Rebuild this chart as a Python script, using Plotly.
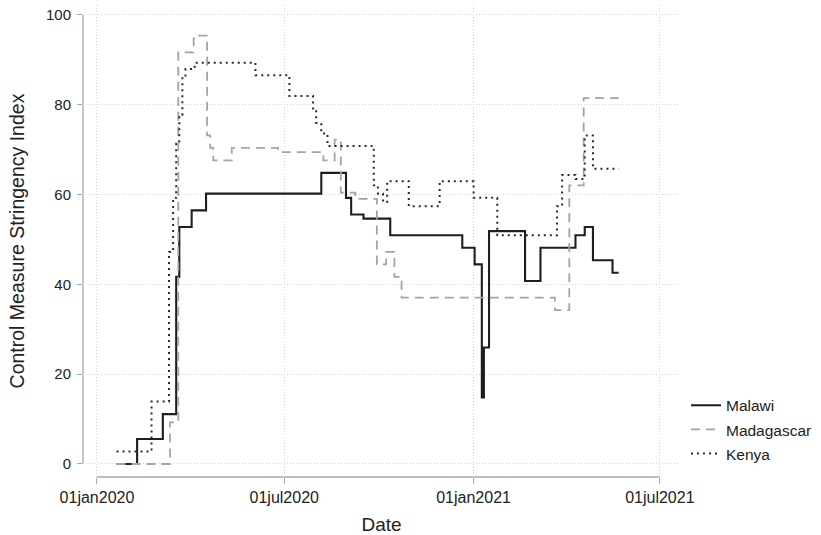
import plotly.graph_objects as go

# ---------------- data ----------------
malawi_dates = ["2020-01-20", "2020-02-09", "2020-03-05", "2020-03-18", "2020-03-21",
                "2020-04-02", "2020-04-16", "2020-08-06", "2020-08-30", "2020-09-04",
                "2020-09-16", "2020-10-12", "2020-12-21", "2021-01-02", "2021-01-09",
                "2021-01-11", "2021-01-16", "2021-02-20", "2021-03-07", "2021-04-10",
                "2021-04-19", "2021-04-27", "2021-05-16", "2021-05-22"]
malawi_values = [0.0, 5.56, 11.11, 41.67, 52.78,
                 56.48, 60.19, 64.81, 59.26, 55.56,
                 54.63, 50.93, 48.15, 44.44, 14.81,
                 25.93, 51.85, 40.74, 48.15, 50.93,
                 52.78, 45.37, 42.59, 42.59]

madagascar_dates = ["2020-01-20", "2020-03-12", "2020-03-20", "2020-04-04", "2020-04-17",
                    "2020-04-20", "2020-04-23", "2020-05-11", "2020-06-25", "2020-08-08",
                    "2020-08-19", "2020-08-25", "2020-09-08", "2020-09-29", "2020-10-08",
                    "2020-10-16", "2020-10-23", "2021-03-21", "2021-04-04", "2021-04-18",
                    "2021-05-22"]
madagascar_values = [0.0, 9.26, 91.67, 95.37, 73.15,
                     70.37, 67.59, 70.37, 69.44, 67.59,
                     72.22, 60.42, 59.03, 44.44, 47.22,
                     41.67, 37.04, 34.26, 62.04, 81.48,
                     81.48]

kenya_dates = ["2020-01-20", "2020-02-23", "2020-03-11", "2020-03-15", "2020-03-18",
               "2020-03-21", "2020-03-24", "2020-03-27", "2020-04-05", "2020-06-03",
               "2020-07-06", "2020-07-29", "2020-08-01", "2020-08-06", "2020-08-12",
               "2020-09-26", "2020-09-30", "2020-10-05", "2020-10-09", "2020-10-30",
               "2020-11-29", "2021-01-01", "2021-01-24", "2021-03-23", "2021-03-28",
               "2021-04-10", "2021-04-19", "2021-04-27", "2021-05-22"]
kenya_values = [2.78, 13.89, 47.22, 59.26, 71.30,
                77.78, 86.11, 87.96, 89.35, 86.57,
                81.94, 79.17, 75.93, 73.61, 70.83,
                62.04, 60.19, 58.33, 62.96, 57.41,
                62.96, 59.26, 50.93, 57.41, 64.35,
                63.43, 73.15, 65.74, 65.74]

x_tick_vals = ["2020-01-01", "2020-07-01", "2021-01-01", "2021-07-01"]
x_tick_text = ["01jan2020", "01jul2020", "01jan2021", "01jul2021"]
y_tick_vals = [0, 20, 40, 60, 80, 100]

# ---------------- figure ----------------
FONT = "Liberation Sans, Arial, Helvetica, sans-serif"
AXIS_GRAY = "#a8a8a8"
GRID = "#d2d2d2"

fig = go.Figure()
fig.add_trace(go.Scatter(x=malawi_dates, y=malawi_values, name="Malawi", mode="lines",
                         line=dict(shape="hv", color="#1e1e1e", width=2.1),
                         legendgroup="a"))
fig.add_trace(go.Scatter(x=madagascar_dates, y=madagascar_values, name="Madagascar", mode="lines",
                         line=dict(shape="hv", color="#a4a4a4", width=1.8, dash="9px,6px"),
                         legendgroup="b"))
fig.add_trace(go.Scatter(x=kenya_dates, y=kenya_values, name="Kenya", mode="lines",
                         line=dict(shape="hv", color="#2a2a2a", width=2, dash="2px,4px"),
                         legendgroup="c"))

fig.update_layout(
    width=821, height=535,
    margin=dict(l=83, r=141, t=5, b=58, autoexpand=False),
    paper_bgcolor="white", plot_bgcolor="white",
    font=dict(family=FONT, color="#222222", size=14),
    showlegend=True,
    legend=dict(x=1.01, xanchor="left", y=0.187, yanchor="top",
                font=dict(size=15.5, color="#222222"), tracegroupgap=1,
                bgcolor="rgba(0,0,0,0)"),
)

fig.update_xaxes(
    type="date",
    range=["2019-12-18 10:00", "2021-07-20 14:00"],
    tickvals=x_tick_vals, ticktext=x_tick_text,
    ticks="outside", ticklen=6, tickcolor=AXIS_GRAY, tickwidth=1.2,
    tickfont=dict(size=16, color="#222222"),
    showline=False, zeroline=False,
    showgrid=True, gridcolor=GRID, griddash="1px,2px", gridwidth=1,
    title=dict(text="Date", font=dict(size=19), standoff=12),
    automargin=False,
)
fig.update_yaxes(
    range=[-2.9, 102.2],
    tickvals=y_tick_vals,
    ticks="outside", ticklen=5, tickcolor=AXIS_GRAY, tickwidth=1.2,
    tickfont=dict(size=15, color="#222222"),
    ticklabelstandoff=3,
    showline=False, zeroline=False,
    showgrid=True, gridcolor=GRID, griddash="1px,2px", gridwidth=1,
    title=dict(text="Control Measure Stringency Index", font=dict(size=19.5), standoff=16),
    automargin=False,
)

# Stata-style axis lines spanning first to last tick
fig.add_shape(type="line", xref="paper", yref="y", x0=0, x1=0,
              y0=y_tick_vals[0], y1=y_tick_vals[-1],
              line=dict(color=AXIS_GRAY, width=1.3), layer="below")
fig.add_shape(type="line", xref="x", yref="paper", x0=x_tick_vals[0], x1=x_tick_vals[-1],
              y0=0, y1=0, line=dict(color=AXIS_GRAY, width=1.3), layer="below")

fig.write_html("out.html",
               config={"displayModeBar": False},
               post_script="document.body.style.margin='0';document.body.style.padding='0';")
